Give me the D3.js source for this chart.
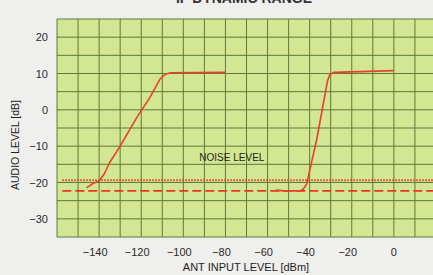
<!DOCTYPE html>
<html lang="en">
<head>
    <meta charset="UTF-8">
    <title>IF Dynamic Range</title>
    <script src="https://cdnjs.cloudflare.com/ajax/libs/d3/7.9.0/d3.min.js"></script>
    <style>
        body {
            margin: 0;
            background: #efefed;
            font-family: "Liberation Sans", Arial, sans-serif;
        }
        .tick-label { font-size: 11px; fill: #2a2a2a; }
        .axis-label { font-size: 11px; fill: #1e1e1e; }
    </style>
</head>
<body>
<div id="chart"></div>
<script>
    // data
    const xTicks = [-140, -120, -100, -80, -60, -40, -20, 0];
    const yTicks = [20, 10, 0, -10, -20, -30];
    const xGrid = d3.range(-160, 21, 10);
    const yGrid = d3.range(-35, 26, 5);

    const curveLowX = [-146, -143, -140, -137.5, -135, -130, -122, -116, -111, -108.5, -106, -80];
    const curveLowY = [-21.5, -20.3, -19.6, -17.6, -14.5, -10, -2, 3.3, 8.5, 9.8, 10.2, 10.3];

    const curveHighX = [-56, -52, -44.5, -43, -41.5, -40.3, -36.7, -31.5, -30.4, -28.5, 0];
    const curveHighY = [-22.1, -22.3, -22.3, -21.8, -20.5, -17.5, -8.3, 8, 9.8, 10.3, 10.8];

    const noiseDotted = -19.4;
    const noiseDashed = -22.3;
    const noiseText = "NOISE LEVEL";

    const width = 433, height = 275;
    const margin = { top: 19, right: -3, bottom: 38, left: 57 };

    const svg = d3.select("#chart").append("svg")
        .attr("width", width)
        .attr("height", height);

    const x = d3.scaleLinear().domain([-160, 20]).range([margin.left, width - margin.right]);
    const y = d3.scaleLinear().domain([-35, 25]).range([height - margin.bottom, margin.top]);

    // title, mostly cut off at the top
    svg.append("text")
        .attr("x", 244).attr("y", 3)
        .attr("text-anchor", "middle")
        .style("font-size", "14px").style("font-weight", "bold").style("fill", "#333")
        .text("IF DYNAMIC RANGE");

    // plot background
    svg.append("rect")
        .attr("x", x(-160)).attr("y", y(25))
        .attr("width", x(20) - x(-160)).attr("height", y(-35) - y(25))
        .attr("fill", "#d3e692");

    // grid
    svg.append("g").selectAll("line").data(xGrid).join("line")
        .attr("x1", d => x(d)).attr("x2", d => x(d))
        .attr("y1", y(25)).attr("y2", y(-35))
        .attr("stroke", "#5d7a3a").attr("stroke-width", 1);
    svg.append("g").selectAll("line").data(yGrid).join("line")
        .attr("x1", x(-160)).attr("x2", x(20))
        .attr("y1", d => y(d)).attr("y2", d => y(d))
        .attr("stroke", "#5d7a3a").attr("stroke-width", 1);

    // tick labels
    const fmt = d => d < 0 ? "\u2212" + Math.abs(d) : String(d);
    svg.append("g").selectAll("text").data(xTicks).join("text")
        .attr("class", "tick-label")
        .attr("x", d => x(d) - (d < 0 ? 4 : 0)).attr("y", y(-35) + 19)
        .attr("text-anchor", "middle")
        .text(fmt);
    svg.append("g").selectAll("text").data(yTicks).join("text")
        .attr("class", "tick-label")
        .attr("x", 48).attr("y", d => y(d) + 4)
        .attr("text-anchor", "end")
        .text(fmt);

    // axis titles
    svg.append("text")
        .attr("class", "axis-label")
        .attr("x", 246).attr("y", 271)
        .attr("text-anchor", "middle")
        .text("ANT INPUT LEVEL [dBm]");
    svg.append("text")
        .attr("class", "axis-label")
        .attr("transform", `translate(19, 145) rotate(-90)`)
        .attr("text-anchor", "middle")
        .style("font-size", "10.5px")
        .text("AUDIO LEVEL [dB]");

    // noise level lines
    svg.append("line")
        .attr("x1", x(-157.5)).attr("x2", x(20))
        .attr("y1", y(noiseDotted)).attr("y2", y(noiseDotted))
        .attr("stroke", "#e8352a").attr("stroke-width", 2)
        .attr("stroke-dasharray", "1.5,1.5");
    svg.append("line")
        .attr("x1", x(-157.5)).attr("x2", x(20))
        .attr("y1", y(noiseDashed)).attr("y2", y(noiseDashed))
        .attr("stroke", "#e8352a").attr("stroke-width", 1.8)
        .attr("stroke-dasharray", "9,4");

    svg.append("text")
        .attr("x", x(-92.4)).attr("y", y(-14.2))
        .style("font-size", "10px").style("fill", "#1e1e1e")
        .text(noiseText);

    // response curves
    const line = d3.line().x(d => x(d[0])).y(d => y(d[1]));
    [[curveLowX, curveLowY], [curveHighX, curveHighY]].forEach(([xs, ys]) => {
        svg.append("path")
            .datum(xs.map((v, i) => [v, ys[i]]))
            .attr("d", line)
            .attr("fill", "none")
            .attr("stroke", "#e8402a")
            .attr("stroke-width", 1.6)
            .attr("stroke-linejoin", "round");
    });
</script>
</body>
</html>
